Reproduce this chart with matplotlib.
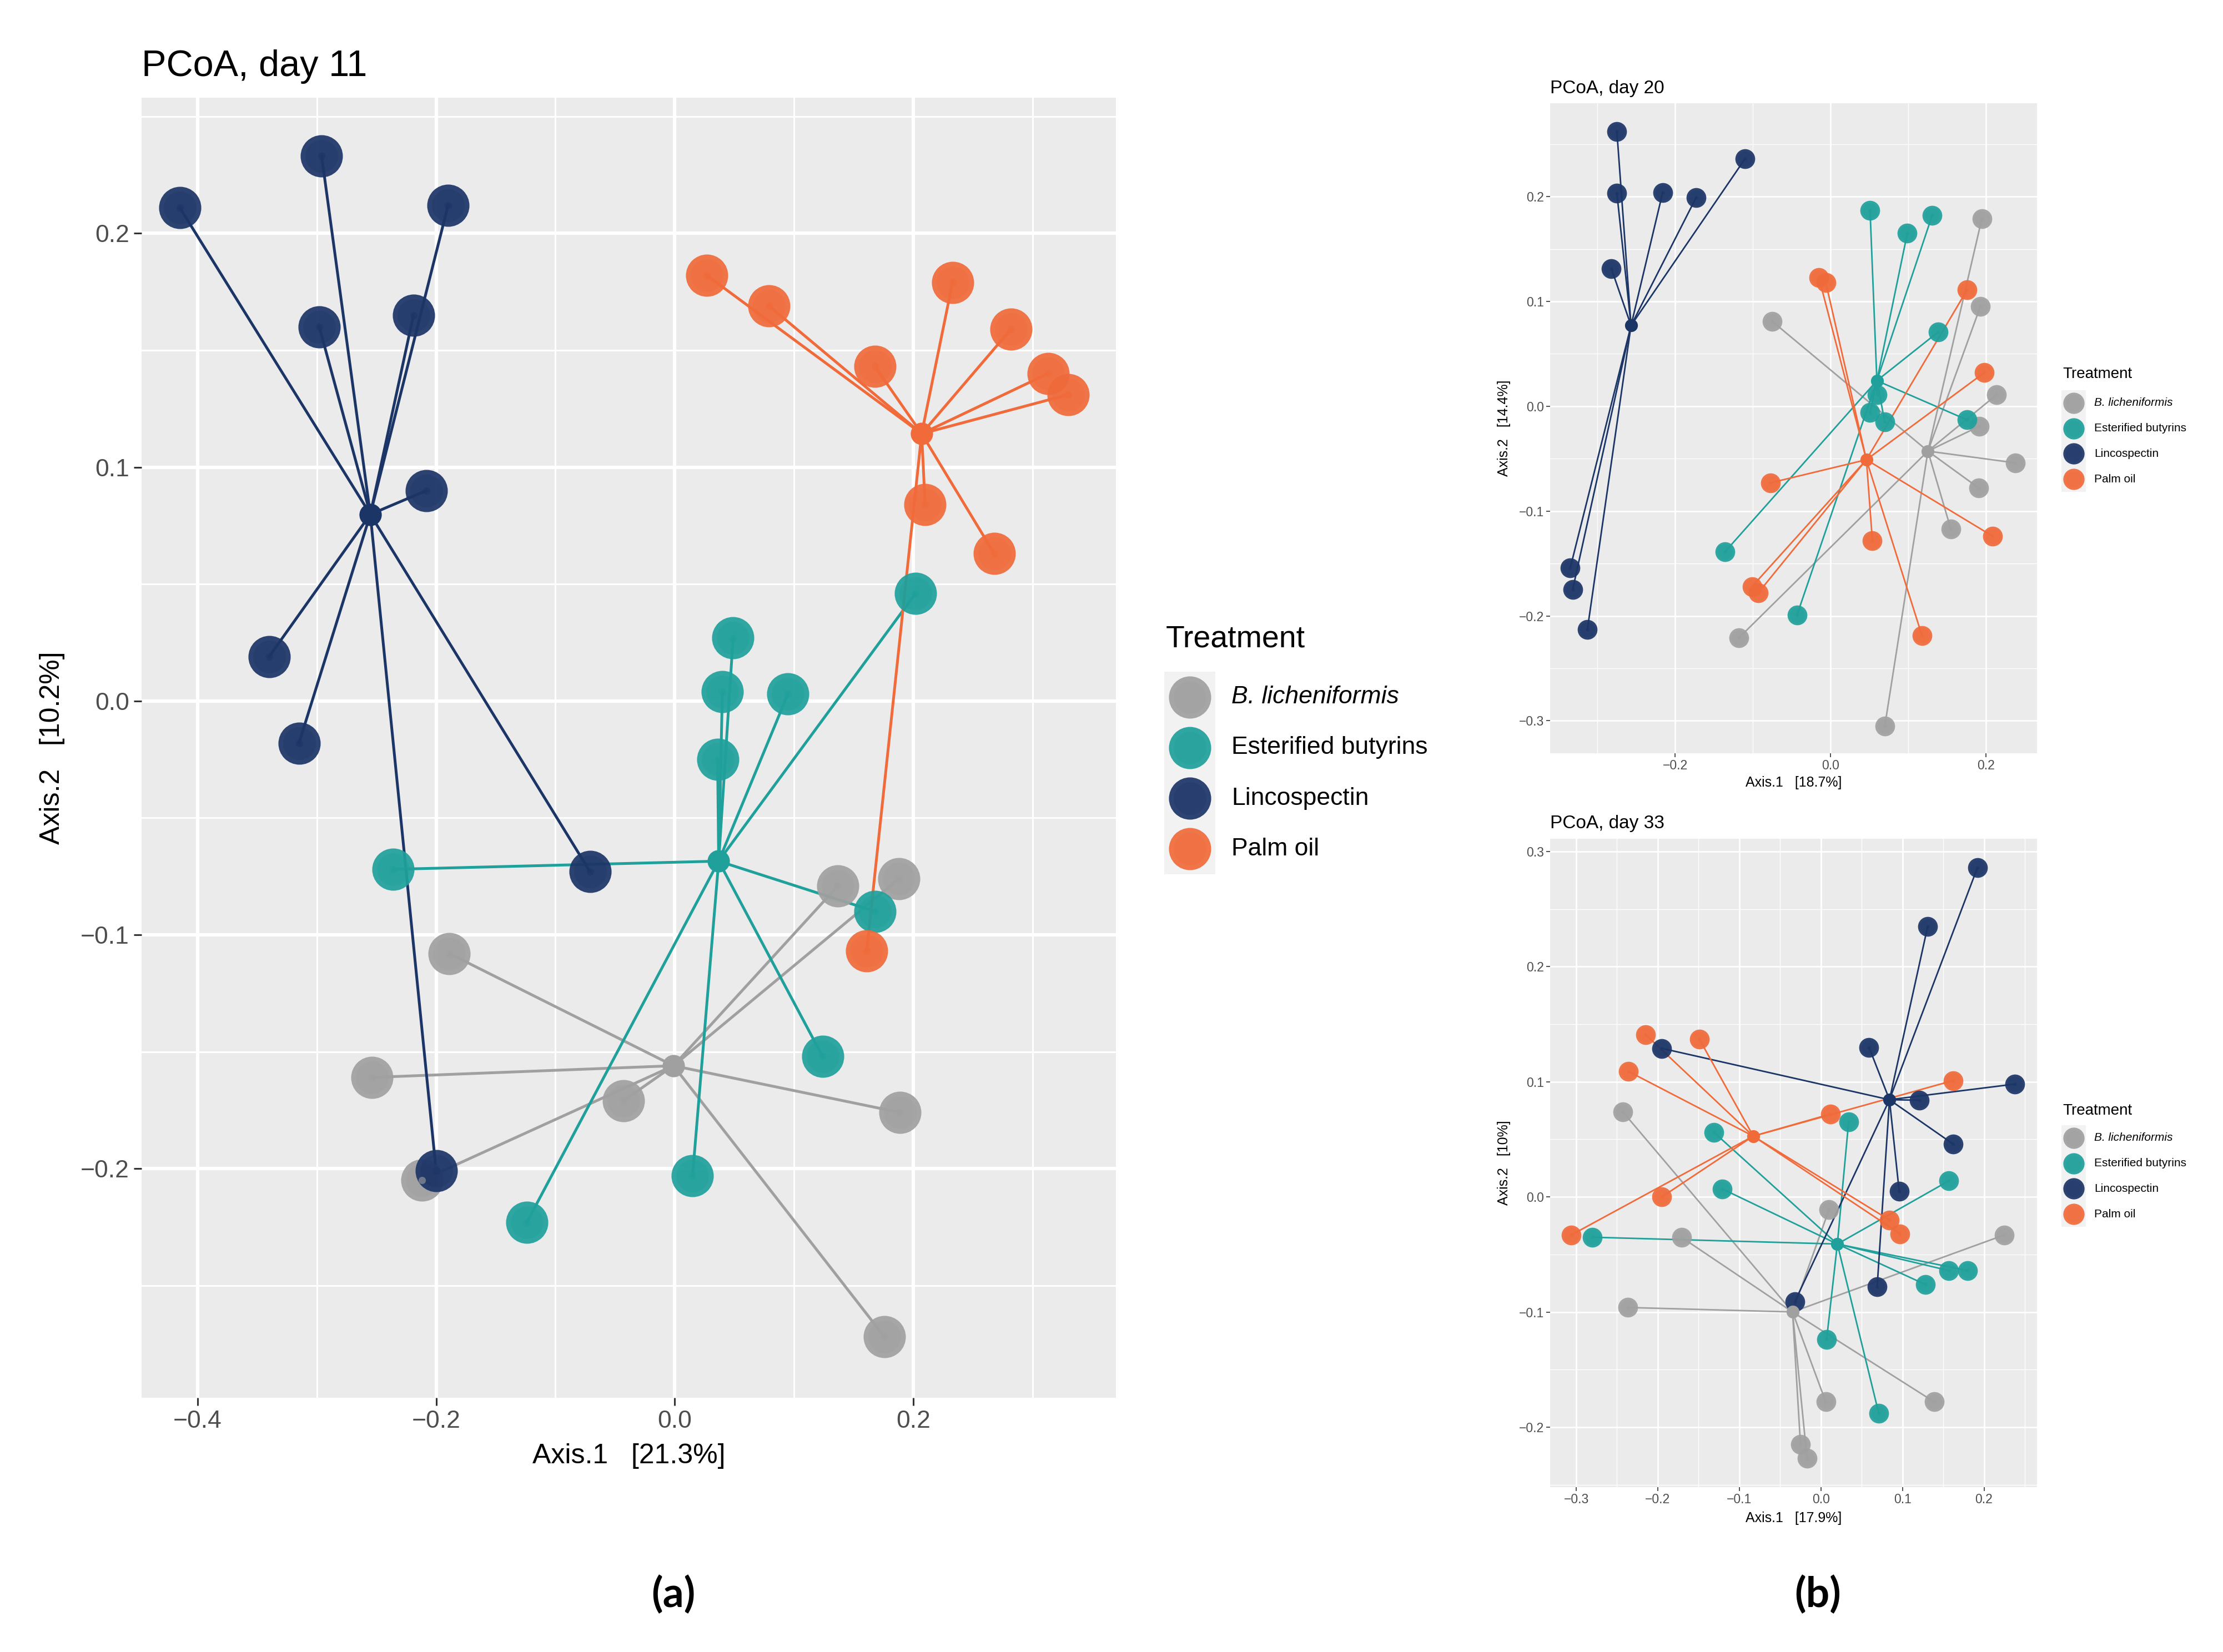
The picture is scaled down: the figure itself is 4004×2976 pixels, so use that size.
import numpy as np
import matplotlib
matplotlib.use("Agg")
import matplotlib.pyplot as plt
from matplotlib.patches import Rectangle

plt.rcParams['font.family'] = ['Liberation Sans', 'DejaVu Sans']

W, H = 4004, 2976

groups = ['B. licheniformis', 'Esterified butyrins', 'Lincospectin', 'Palm oil']
colors = ['#A0A0A0', '#1FA09B', '#1C3567', '#F06A3A']

# ---- day 11 ----
d11_lich_x = [0.137, 0.188, -0.189, -0.254, -0.043, 0.189, -0.212, 0.176]
d11_lich_y = [-0.079, -0.076, -0.108, -0.161, -0.171, -0.176, -0.205, -0.272]
d11_est_x = [0.049, 0.040, 0.095, 0.036, 0.202, -0.236, 0.168, 0.124, 0.015, -0.124]
d11_est_y = [0.027, 0.004, 0.003, -0.025, 0.046, -0.072, -0.090, -0.152, -0.203, -0.223]
d11_linc_x = [-0.415, -0.296, -0.190, -0.298, -0.219, -0.208, -0.340, -0.315, -0.071, -0.200]
d11_linc_y = [0.211, 0.233, 0.212, 0.160, 0.165, 0.090, 0.019, -0.018, -0.073, -0.201]
d11_palm_x = [0.027, 0.079, 0.233, 0.282, 0.168, 0.313, 0.330, 0.210, 0.268, 0.161]
d11_palm_y = [0.182, 0.169, 0.179, 0.159, 0.143, 0.140, 0.131, 0.084, 0.063, -0.107]

# ---- day 20 ----
d20_lich_x = [0.195, 0.193, -0.075, 0.214, 0.192, 0.238, 0.191, 0.155, -0.118, 0.070]
d20_lich_y = [0.179, 0.095, 0.081, 0.011, -0.019, -0.054, -0.078, -0.117, -0.221, -0.305]
d20_est_x = [0.051, 0.099, 0.131, 0.139, 0.060, 0.051, 0.070, 0.176, -0.136, -0.043]
d20_est_y = [0.187, 0.165, 0.182, 0.071, 0.011, -0.006, -0.015, -0.013, -0.139, -0.199]
d20_linc_x = [-0.275, -0.275, -0.216, -0.173, -0.110, -0.282, -0.335, -0.332, -0.313]
d20_linc_y = [0.262, 0.203, 0.204, 0.199, 0.236, 0.131, -0.154, -0.175, -0.213]
d20_palm_x = [-0.015, -0.006, 0.176, 0.198, -0.077, 0.054, 0.209, -0.101, -0.093, 0.118]
d20_palm_y = [0.123, 0.118, 0.111, 0.032, -0.073, -0.128, -0.124, -0.172, -0.178, -0.219]

# ---- day 33 ----
d33_lich_x = [-0.243, 0.010, -0.171, 0.225, -0.237, 0.006, 0.139, -0.025, -0.017]
d33_lich_y = [0.074, -0.011, -0.035, -0.033, -0.096, -0.178, -0.178, -0.215, -0.227]
d33_est_x = [0.034, -0.131, -0.121, 0.157, -0.280, 0.157, 0.180, 0.128, 0.007, 0.071]
d33_est_y = [0.065, 0.056, 0.007, 0.014, -0.035, -0.064, -0.064, -0.076, -0.124, -0.188]
d33_linc_x = [0.192, 0.131, 0.059, -0.195, 0.238, 0.121, 0.162, 0.096, 0.069, -0.032]
d33_linc_y = [0.286, 0.235, 0.130, 0.129, 0.098, 0.084, 0.046, 0.005, -0.078, -0.091]
d33_palm_x = [-0.215, -0.149, -0.236, 0.162, 0.012, -0.195, 0.084, 0.097, -0.306]
d33_palm_y = [0.141, 0.137, 0.109, 0.101, 0.072, 0.000, -0.020, -0.032, -0.033]


def fig_rect(left, top, right, bottom):
    return [left / W, 1 - bottom / H, (right - left) / W, (bottom - top) / H]


def pcoa_panel(ax, data, xlim, ylim, xmaj, ymaj, xlab, ylab, s_pt, s_cen, lw, big):
    ax.set_facecolor('#EBEBEB')
    for sp in ax.spines.values():
        sp.set_visible(False)
    ax.set_xticks(xmaj)
    ax.set_yticks(ymaj)
    dx = (xmaj[1] - xmaj[0]) / 2
    dy = (ymaj[1] - ymaj[0]) / 2
    xmin = [v for v in np.arange(xmaj[0] - dx, xlim[1], 2 * dx) if xlim[0] < v < xlim[1]]
    ymin = [v for v in np.arange(ymaj[0] - dy, ylim[1], 2 * dy) if ylim[0] < v < ylim[1]]
    ax.set_xticks(xmin, minor=True)
    ax.set_yticks(ymin, minor=True)
    gmaj = 2.2 if big else 1.0
    ax.grid(which='major', color='white', lw=gmaj)
    ax.grid(which='minor', color='white', lw=gmaj / 2)
    ax.set_axisbelow(True)
    ax.set_xticklabels([f'{v:.1f}'.replace('-', '\u2212') for v in xmaj])
    ax.set_yticklabels([f'{v:.1f}'.replace('-', '\u2212') for v in ymaj])
    fs = 16 if big else 8.3
    ax.tick_params(which='major', length=5 if big else 2.5, width=1.1 if big else 0.6,
                   color='#333333', labelcolor='#4D4D4D', labelsize=fs, pad=3 if big else 1.5)
    ax.tick_params(which='minor', length=0)
    ax.set_xlabel(xlab, fontsize=18 if big else 9)
    ax.set_ylabel(ylab, fontsize=18 if big else 9)

    cents = []
    for (gx, gy), col in zip(data, colors):
        gx = np.asarray(gx)
        gy = np.asarray(gy)
        cx, cy = gx.mean(), gy.mean()
        cents.append((cx, cy))
        for x, y in zip(gx, gy):
            ax.plot([cx, x], [cy, y], color=col, lw=lw, zorder=2, solid_capstyle='round')
    for (gx, gy), col in zip(data, colors):
        ax.scatter(gx, gy, s=s_pt, color=col, alpha=0.92, lw=0, zorder=3)
        ax.scatter(gx, gy, s=s_pt * 0.6, color=col, alpha=0.35, lw=0, zorder=3)
        ax.scatter(gx, gy, s=s_pt * 0.03, color=col, alpha=0.6, lw=0, zorder=4)
    for (cx, cy), col in zip(cents, colors):
        ax.scatter([cx], [cy], s=s_cen, color=col, lw=0, zorder=5)
    ax.set_xlim(*xlim)
    ax.set_ylim(*ylim)


def legend_block(fig, title_x, title_y, bg, label_x, s_key, fs_title, fs_lab):
    left, top, right, bottom = bg
    fig.text(title_x / W, 1 - title_y / H, 'Treatment', fontsize=fs_title,
             va='center', ha='left')
    lax = fig.add_axes(fig_rect(left, top, right, bottom))
    lax.set_xlim(0, 1)
    lax.set_ylim(0, 4)
    lax.axis('off')
    lax.add_patch(Rectangle((0, 0), 1, 4, color='#F2F2F2', zorder=0))
    step = (bottom - top) / 4
    for i, (g, col) in enumerate(zip(groups, colors)):
        yk = 3.5 - i
        lax.scatter([0.5], [yk], s=s_key, color=col, alpha=0.92, lw=0, zorder=2)
        lax.scatter([0.5], [yk], s=s_key * 0.6, color=col, alpha=0.35, lw=0, zorder=2)
        ycen = top + step * (i + 0.5)
        fig.text(label_x / W, 1 - ycen / H, g, fontsize=fs_lab, va='center', ha='left',
                 style='italic' if i == 0 else 'normal')


fig = plt.figure(figsize=(W / 200, H / 200), dpi=200)

# panel (a)
ax_a = fig.add_axes(fig_rect(255, 176, 2010, 2518))
pcoa_panel(ax_a,
           [(d11_lich_x, d11_lich_y), (d11_est_x, d11_est_y),
            (d11_linc_x, d11_linc_y), (d11_palm_x, d11_palm_y)],
           (-0.447, 0.370), (-0.298, 0.258),
           [-0.4, -0.2, 0.0, 0.2], [-0.2, -0.1, 0.0, 0.1, 0.2],
           'Axis.1   [21.3%]', 'Axis.2   [10.2%]', 750, 210, 1.8, True)
ax_a.xaxis.set_label_coords(0.5, -0.0448)
ax_a.xaxis.label.set_va('center')
ax_a.yaxis.set_label_coords(-0.0917, 0.5)
ax_a.yaxis.label.set_va('center')
fig.text(255 / W, 1 - 137 / H, 'PCoA, day 11', fontsize=24, va='baseline', ha='left')
legend_block(fig, 2100, 1152, (2097, 1210, 2189, 1575), 2218, 750, 20, 16)

# panel (b) day 20
ax_20 = fig.add_axes(fig_rect(2792, 186, 3669, 1357))
pcoa_panel(ax_20,
           [(d20_lich_x, d20_lich_y), (d20_est_x, d20_est_y),
            (d20_linc_x, d20_linc_y), (d20_palm_x, d20_palm_y)],
           (-0.361, 0.266), (-0.331, 0.289),
           [-0.2, 0.0, 0.2], [-0.3, -0.2, -0.1, 0.0, 0.1, 0.2],
           'Axis.1   [18.7%]', 'Axis.2   [14.4%]', 165, 70, 1.0, False)
ax_20.xaxis.set_label_coords(0.5, -0.0453)
ax_20.xaxis.label.set_va('center')
ax_20.yaxis.set_label_coords(-0.0946, 0.5)
ax_20.yaxis.label.set_va('center')
fig.text(2792 / W, 1 - 168 / H, 'PCoA, day 20', fontsize=12, va='baseline', ha='left')
legend_block(fig, 3715, 674, (3713, 703, 3757, 886), 3772, 190, 10, 7.5)

# panel (b) day 33
ax_33 = fig.add_axes(fig_rect(2792, 1511, 3669, 2679))
pcoa_panel(ax_33,
           [(d33_lich_x, d33_lich_y), (d33_est_x, d33_est_y),
            (d33_linc_x, d33_linc_y), (d33_palm_x, d33_palm_y)],
           (-0.332, 0.265), (-0.252, 0.311),
           [-0.3, -0.2, -0.1, 0.0, 0.1, 0.2], [-0.2, -0.1, 0.0, 0.1, 0.2, 0.3],
           'Axis.1   [17.9%]', 'Axis.2   [10%]', 165, 70, 1.0, False)
ax_33.xaxis.set_label_coords(0.5, -0.048)
ax_33.xaxis.label.set_va('center')
ax_33.yaxis.set_label_coords(-0.0946, 0.5)
ax_33.yaxis.label.set_va('center')
fig.text(2792 / W, 1 - 1492 / H, 'PCoA, day 33', fontsize=12, va='baseline', ha='left')
legend_block(fig, 3715, 2001, (3713, 2027, 3757, 2210), 3772, 190, 10, 7.5)

# panel letters
fig.text(1213 / W, 1 - 2873 / H, '(a)', fontsize=27, fontweight='bold',
         family=['Lato', 'DejaVu Sans'], ha='center', va='center')
fig.text(3274 / W, 1 - 2873 / H, '(b)', fontsize=27, fontweight='bold',
         family=['Lato', 'DejaVu Sans'], ha='center', va='center')

fig.savefig('out.png', dpi=200, facecolor='white')
